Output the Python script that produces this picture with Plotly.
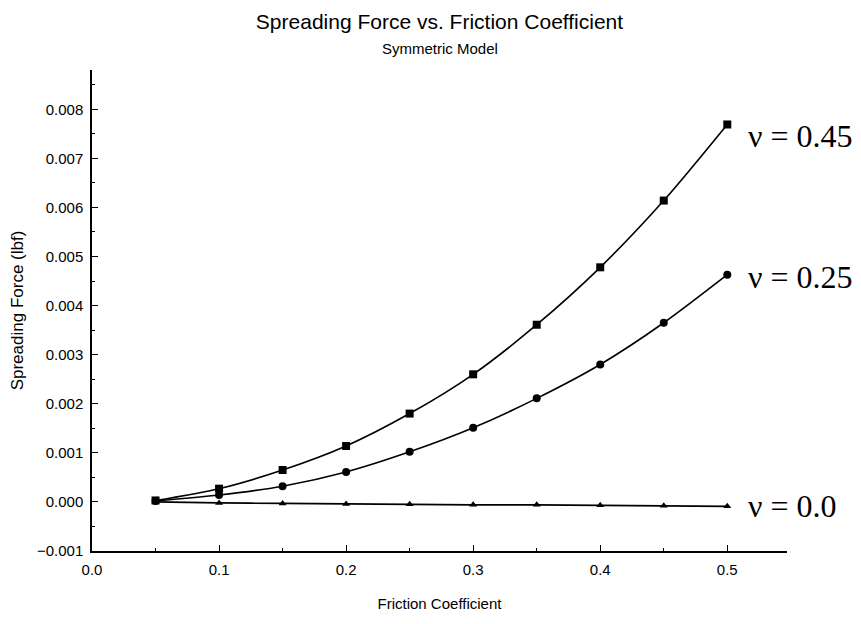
import plotly.graph_objects as go

friction = [0.05, 0.10, 0.15, 0.20, 0.25, 0.30, 0.35, 0.40, 0.45, 0.50]
force_nu045 = [0.00003, 0.00027, 0.00065, 0.00114, 0.00180, 0.00260, 0.00361, 0.00478, 0.00614, 0.00769]
force_nu025 = [0.00002, 0.00014, 0.00032, 0.00061, 0.00102, 0.00151, 0.00211, 0.00280, 0.00365, 0.00463]
force_nu000 = [0.00000, -0.00002, -0.00003, -0.00004, -0.00005, -0.00006, -0.00006, -0.00007, -0.00008, -0.00009]
series_labels = ["ν = 0.45", "ν = 0.25", "ν = 0.0"]
series_symbols = ["square", "circle", "triangle-up"]
series_sizes = [8, 8, 7]
label_yshift = [-12, -2, 0]

sans = "Liberation Sans, Arial, Helvetica, sans-serif"
serif = "Liberation Serif, Times New Roman, serif"

fig = go.Figure()
for vals, sym, sz, lab, ysh in zip([force_nu045, force_nu025, force_nu000],
                                    series_symbols, series_sizes, series_labels, label_yshift):
    fig.add_trace(go.Scatter(
        x=friction, y=vals, mode="lines+markers",
        line=dict(color="black", width=1.6, shape="spline", smoothing=0.8),
        marker=dict(symbol=sym, size=sz, color="black"),
        showlegend=False, cliponaxis=False))
    fig.add_annotation(x=friction[-1], y=vals[-1], xref="x", yref="y",
                       text=lab, showarrow=False, xanchor="left", yanchor="middle",
                       xshift=19, yshift=ysh,
                       font=dict(family=serif, size=32, color="black"))

fig.add_annotation(x=0.5, y=1, xref="paper", yref="paper", yshift=11,
                   text="Symmetric Model", showarrow=False, yanchor="bottom",
                   font=dict(family=sans, size=15, color="black"))

fig.update_layout(
    width=861, height=624,
    margin=dict(l=84, r=82, t=62, b=81),
    paper_bgcolor="white", plot_bgcolor="white",
    title=dict(text="Spreading Force vs. Friction Coefficient", x=0.5, xanchor="center",
               xref="paper", y=0.9776, yanchor="middle", automargin=False,
               font=dict(family=sans, size=21, color="black")),
    font=dict(family=sans, color="black"),
    xaxis=dict(range=[0, 0.547], dtick=0.1, tick0=0, tickformat=".1f", automargin=False,
               showgrid=False, zeroline=False, showline=True, linecolor="black", linewidth=1.5,
               ticks="inside", ticklen=6, tickcolor="black",
               minor=dict(ticks="inside", ticklen=3, dtick=0.05, tickcolor="black"),
               tickfont=dict(size=15), ticklabelstandoff=4,
               title=dict(text="Friction Coefficient", font=dict(size=15), standoff=22)),
    yaxis=dict(range=[-0.001, 0.0088], dtick=0.001, tick0=0, tickformat=".3f", automargin=False,
               showgrid=False, zeroline=False, showline=True, linecolor="black", linewidth=1.5,
               ticks="inside", ticklen=6, tickcolor="black",
               minor=dict(ticks="inside", ticklen=3, dtick=0.0005, tickcolor="black"),
               tickfont=dict(size=15), ticklabelstandoff=4,
               title=dict(text="Spreading Force (lbf)", font=dict(size=17), standoff=10)),
)

fig.write_html("out.html")
